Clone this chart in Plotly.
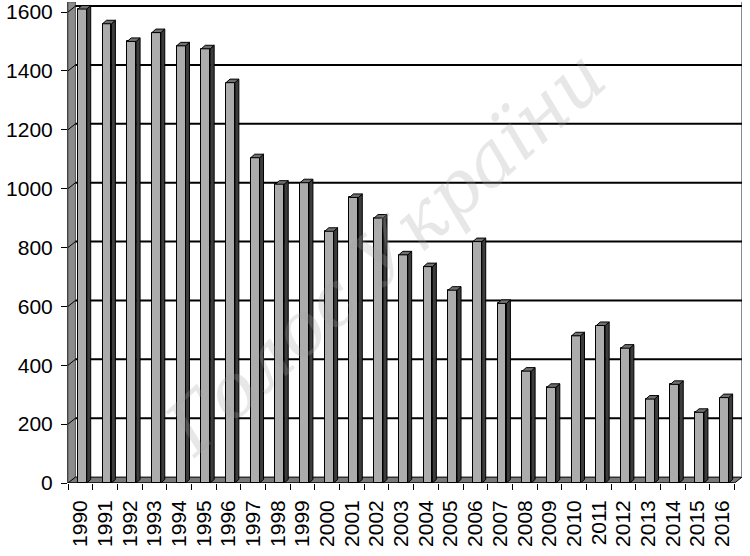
import plotly.graph_objects as go

years = [str(y) for y in range(1990, 2017)]
values = [1610, 1560, 1500, 1530, 1485, 1475, 1360, 1105, 1015, 1020,
          855, 970, 900, 775, 735, 655, 820, 610, 380, 325,
          500, 535, 458, 285, 335, 240, 290]
y_ticks = [0, 200, 400, 600, 800, 1000, 1200, 1400, 1600]
watermark = "Голос України"

n = len(years)
idx = list(range(n))
Y_TOP = 1634
DXU = 0.30    # depth offset (category units)
DYU = 20      # depth offset (value units)
F0, F1 = -0.10, 0.26   # front face relative to category centre
SX, SY = 0.16, 12      # bar depth

fig = go.Figure()

sx, sy = [], []
tx, ty = [], []
for i, v in zip(idx, values):
    sx += [i + F1, i + F1, i + F1 + SX, i + F1 + SX, i + F1, None]
    sy += [0, v, v + SY, SY, 0, None]
    tx += [i + F0, i + F1, i + F1 + SX, i + F0 + SX, i + F0, None]
    ty += [v, v, v + SY, v + SY, v, None]

fig.add_trace(go.Scatter(x=sx, y=sy, mode="lines", fill="toself",
                         fillcolor="#3c3c3c", line=dict(color="black", width=1),
                         hoverinfo="skip", showlegend=False))
fig.add_trace(go.Scatter(x=tx, y=ty, mode="lines", fill="toself",
                         fillcolor="#707070", line=dict(color="black", width=1),
                         hoverinfo="skip", showlegend=False))
fig.add_trace(go.Bar(x=[i + (F0 + F1) / 2 for i in idx], y=values, width=F1 - F0,
                     marker=dict(color="#acacac", line=dict(color="black", width=1)),
                     showlegend=False, hovertext=years))

shapes = []
shapes.append(dict(type="path", layer="below",
                   path=f"M -0.5,0 L {-0.5+DXU},{DYU} L {-0.5+DXU},{Y_TOP} L -0.5,{Y_TOP} Z",
                   fillcolor="#8c8c8c", line=dict(color="#555", width=1)))
shapes.append(dict(type="path", layer="below",
                   path=f"M -0.5,0 L {n-0.5},0 L {n-0.5+DXU},{DYU} L {-0.5+DXU},{DYU} Z",
                   fillcolor="#7a7a7a", line=dict(color="black", width=1)))
shapes.append(dict(type="line", layer="below", x0=n - 0.5 + DXU, x1=n - 0.5 + DXU,
                   y0=DYU, y1=Y_TOP, line=dict(color="#8a8a8a", width=2)))
for v in y_ticks[1:]:
    shapes.append(dict(type="line", layer="below", x0=-0.5 + DXU, x1=n - 0.5 + DXU,
                       y0=v + DYU, y1=v + DYU, line=dict(color="black", width=2)))
    shapes.append(dict(type="line", layer="below", x0=-0.5, x1=-0.5 + DXU,
                       y0=v, y1=v + DYU, line=dict(color="black", width=1)))
shapes.append(dict(type="line", x0=-0.5, x1=n - 0.5, y0=0, y1=0,
                   line=dict(color="black", width=1)))

fig.update_layout(
    width=750, height=556,
    margin=dict(l=68, r=8, t=0, b=73),
    paper_bgcolor="white", plot_bgcolor="white",
    font=dict(family="Liberation Sans, Arial", color="black", size=20),
    shapes=shapes,
    bargap=0,
    annotations=[dict(text=watermark, xref="paper", yref="paper", x=0.47, y=0.48,
                      showarrow=False, textangle=-42,
                      font=dict(family="DejaVu Serif", size=74, style="italic",
                                color="rgba(160,160,160,0.25)"))],
)
fig.update_xaxes(range=[-0.5, n - 0.5 + DXU], tickmode="array", tickvals=idx,
                 ticktext=years, tickangle=-90, ticks="", showgrid=False,
                 zeroline=False, showline=False, tickfont=dict(size=21),
                 ticklabelstandoff=12,
                 minor=dict(tick0=-0.5, dtick=1, ticks="outside", ticklen=6,
                            tickcolor="black", showgrid=False))
fig.update_yaxes(range=[0, Y_TOP], tickmode="array", tickvals=y_ticks,
                 ticks="outside", ticklen=6, tickcolor="black", showgrid=False,
                 zeroline=False, showline=True, linecolor="#444", linewidth=1,
                 tickfont=dict(size=21), ticklabeloverflow="allow",
                 ticklabelstandoff=4)

fig.write_html("out.html", config={"displayModeBar": False},
               post_script="document.body.style.margin='0';")
